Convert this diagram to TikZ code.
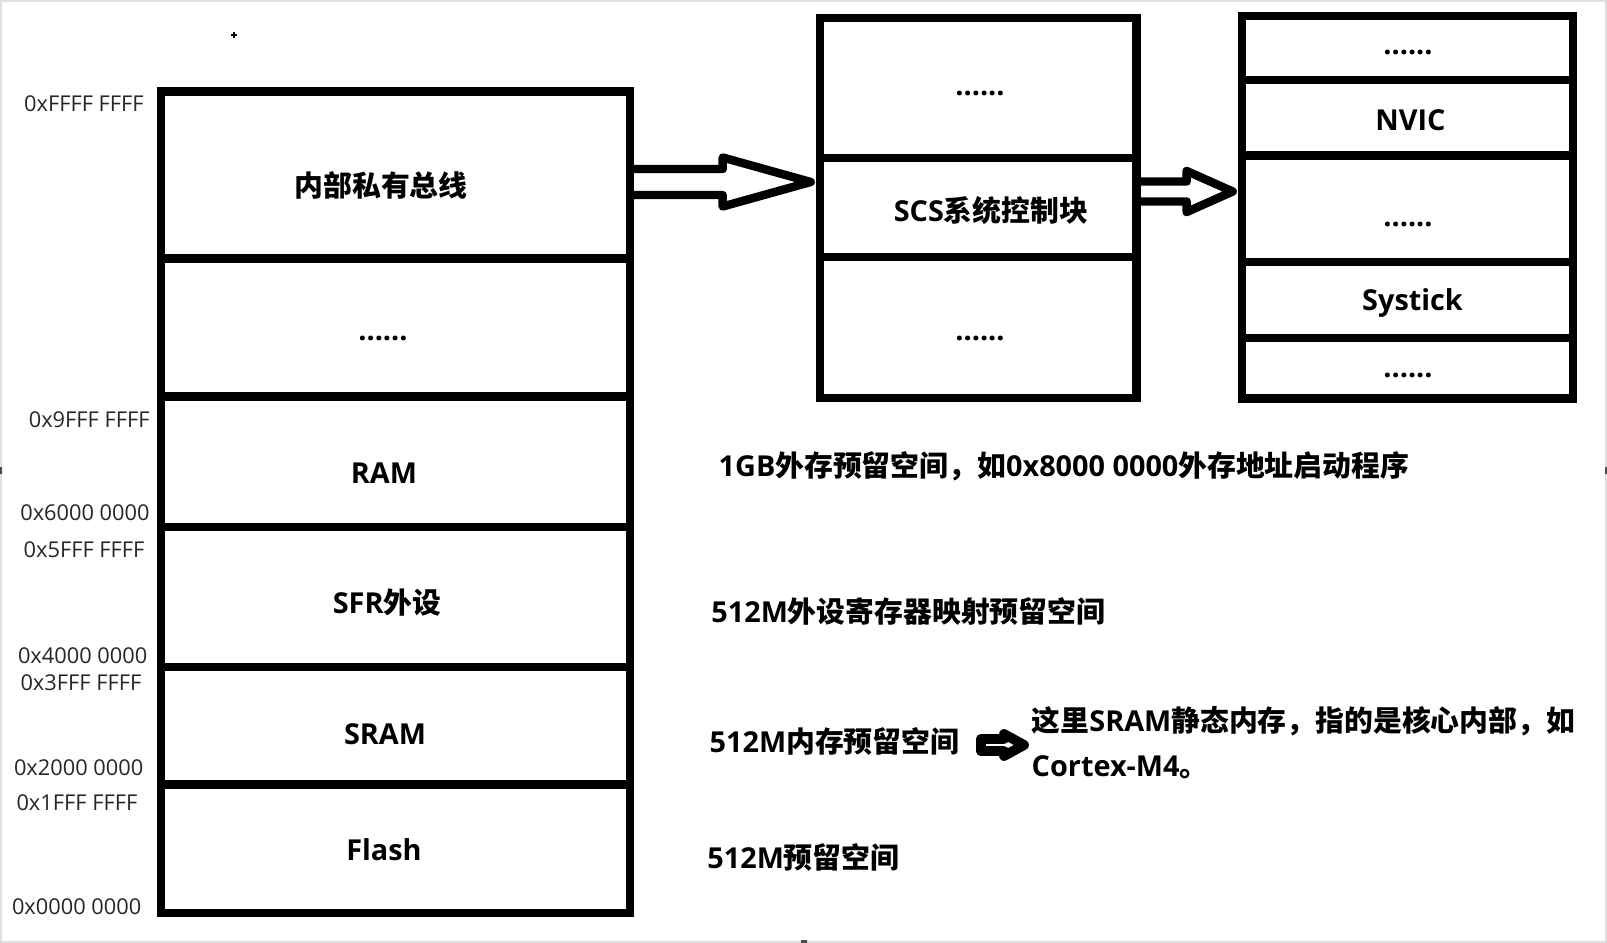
\documentclass[tikz,border=0pt]{standalone}
\usepackage{fontspec}
\setmainfont{Open Sans}
\newfontfamily\cjkfont{Noto Sans CJK SC}
\usetikzlibrary{calc}
\newcommand{\zh}[1]{{\cjkfont #1}}
% hollow block arrow: tail, tip, shaft half, head half, head length
\newcommand{\fatarrow}[6][fat]{%
  \draw[#1] ($(#2 |- #3)+(0,-#4)$) -- ($(#3)+(-#6,-#4)$) -- ($(#3)+(-#6,-#5)$)
    -- (#3) -- ($(#3)+(-#6,#5)$) -- ($(#3)+(-#6,#4)$) -- ($(#2 |- #3)+(0,#4)$);}
\tikzset{
  box/.style={draw,line width=2.4pt,inner sep=0pt},
  lcol/.style={box,minimum width=4.686cm},
  mcol/.style={box,minimum width=3.166cm},
  rcol/.style={box,minimum width=3.31cm},
  lbl/.style={inner sep=0pt,font=\bfseries\fontsize{8.2}{10}\selectfont},
  addr/.style={anchor=east,inner sep=0pt,text=black!85,font=\fontsize{6.2}{7}\selectfont},
  note/.style={lbl,anchor=west},
  fat/.style={line width=2.4pt,line join=round},
  smallfat/.style={line width=2.8pt,line join=round,line cap=round}
}
\begin{document}
\begin{tikzpicture}[x=0.01cm,y=-0.01cm]
  \useasboundingbox (0,0) rectangle (1607,943);
  \draw[black!12,line width=0.6pt] (1,1) rectangle (1606,942);
  \fill[black!70] (0,467) rectangle (2,474) (1605,467) rectangle (1607,474) (801,940) rectangle (807,943);
  \draw[line width=0.3pt] (231,35) -- (237,35) (234,32) -- (234,38);

  % memory map
  \node[lcol,minimum height=1.672cm] (bus) at (395.5,175.1) {};
  \node[lcol,minimum height=1.376cm] (ldots) at (395.5,327.5) {};
  \node[lcol,minimum height=1.305cm] (ram) at (395.5,461.55) {};
  \node[lcol,minimum height=1.402cm] (sfr) at (395.5,596.9) {};
  \node[lcol,minimum height=1.176cm] (sram) at (395.5,725.8) {};
  \node[lcol,minimum height=1.284cm] (flash) at (395.5,848.8) {};
  \node[lbl] (bus-t) at (381,185) {\zh{内部私有总线}};
  \node[lbl] (ldots-t) at (383,338) {......};
  \node[lbl] (ram-t) at (384,472.7) {RAM};
  \node[lbl] (sfr-t) at (387,602.6) {SFR\zh{外设}};
  \node[lbl] (sram-t) at (385,734) {SRAM};
  \node[lbl] (flash-t) at (384,850) {Flash};

  \node[addr] (a1) at (144.4,104) {0xFFFF FFFF};
  \node[addr] (a2) at (150.3,419.7) {0x9FFF FFFF};
  \node[addr] (a3) at (150.3,512.5) {0x6000 0000};
  \node[addr] (a4) at (145.2,549.6) {0x5FFF FFFF};
  \node[addr] (a5) at (148,656) {0x4000 0000};
  \node[addr] (a6) at (142,683) {0x3FFF FFFF};
  \node[addr] (a7) at (144,768) {0x2000 0000};
  \node[addr] (a8) at (138,803) {0x1FFF FFFF};
  \node[addr] (a9) at (142,906.6) {0x0000 0000};

  % private bus
  \node[mcol,minimum height=1.398cm] (mdots1) at (978.3,87.9) {};
  \node[mcol,minimum height=0.992cm] (scs) at (978.3,207.4) {};
  \node[mcol,minimum height=1.41cm] (mdots2) at (978.3,327.5) {};
  \node[lbl] (mdots1-t) at (980,93) {......};
  \node[lbl] (scs-t) at (991,210.7) {SCS\zh{系统控制块}};
  \node[lbl] (mdots2-t) at (980,338) {......};

  % SCS
  \node[rcol,minimum height=0.637cm] (rdots1) at (1407.5,48.15) {};
  \node[rcol,minimum height=0.753cm] (nvic) at (1407.5,117.65) {};
  \node[rcol,minimum height=1.067cm] (rdots2) at (1407.5,208.65) {};
  \node[rcol,minimum height=0.76cm] (systick) at (1407.5,300) {};
  \node[rcol,minimum height=0.604cm] (rdots3) at (1407.5,368.2) {};
  \node[lbl] (rdots1-t) at (1408,52.7) {......};
  \node[lbl] (nvic-t) at (1410.5,120.7) {NVIC};
  \node[lbl] (rdots2-t) at (1408,224) {......};
  \node[lbl] (systick-t) at (1412.5,303) {Systick};
  \node[lbl] (rdots3-t) at (1408,375) {......};

  \coordinate (tip1) at ($(scs.west |- 0,182)+(-5,0)$);
  \fatarrow{bus.east}{tip1}{13}{24.5}{88}
  \coordinate (tip2) at ($(rdots2.west |- 0,191.5)+(-5,0)$);
  \fatarrow{scs.east}{tip2}{10}{20.5}{46}

  % notes
  \node[note] (extram) at (718,466) {1GB\zh{外存预留空间，如}0x8000 0000\zh{外存地址启动程序}};
  \node[note] (periph) at (710.7,611) {512M\zh{外设寄存器映射预留空间}};
  \node[note] (intmem) at (709,741) {512M\zh{内存预留空间}};
  \node[note] (sramnote) at (1031,721.5) {\zh{这里}SRAM\zh{静态内存，指的是核心内部，如}};
  \node[note] (cortex) at (1031,767) {Cortex-M4\zh{。}};
  \node[note] (rsv) at (706.7,857) {512M\zh{预留空间}};

  \coordinate (tail3) at (981,745);
  \coordinate (tip3) at ($(sramnote.west |- tail3)+(-7,0)$);
  \fatarrow[smallfat]{tail3}{tip3}{6}{11}{20}
  \draw[smallfat] ($(tail3)+(0,-6)$) -- ($(tail3)+(0,6)$);
\end{tikzpicture}
\end{document}
